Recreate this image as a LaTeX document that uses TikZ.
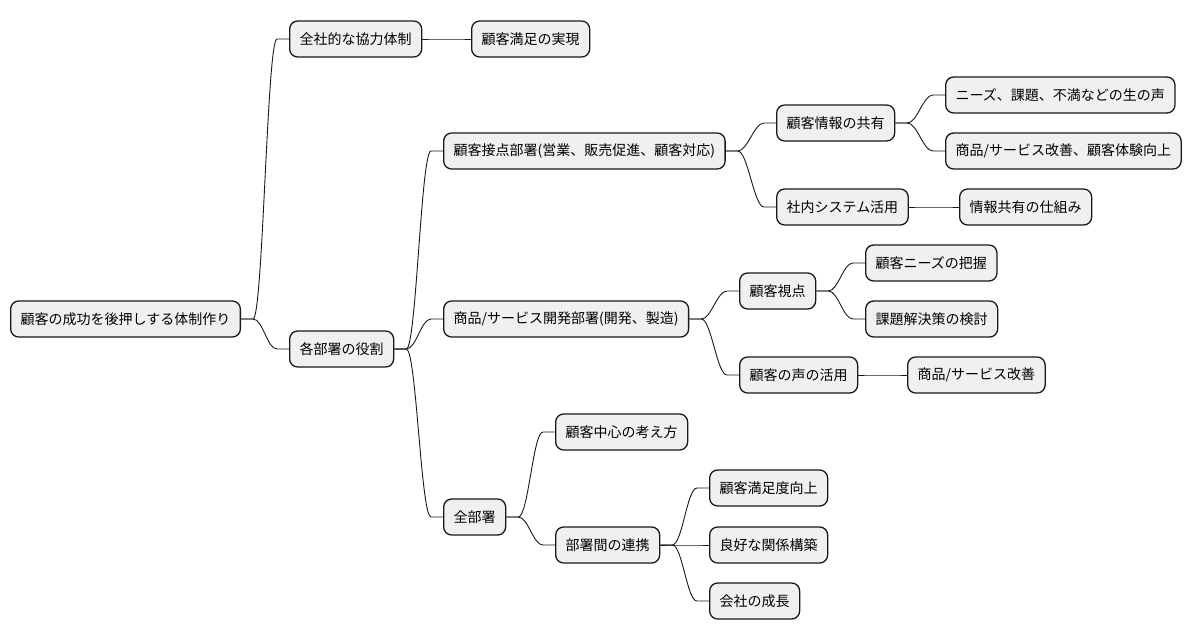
\documentclass[tikz,border=0pt]{standalone}
\usepackage{fontspec}
\setmainfont{Noto Sans CJK JP}
\tikzset{
  box/.style={draw=black!90, line width=1.3pt, fill=black!6, rounded corners=8pt,
    anchor=west, minimum height=36pt, inner xsep=10pt,
    font=\fontsize{14}{16}\selectfont},
  edge/.style={line width=0.9pt, black!90}
}
\begin{document}
\begin{tikzpicture}[x=1pt,y=-1pt]
\useasboundingbox (0,0) rectangle (1190,640);
\node[box] (root) at (10,319) {顧客の成功を後押しする体制作り};
\node[box] (zensha) at (289,39) {全社的な協力体制};
\node[box] (manzoku) at (471,39) {顧客満足の実現};
\node[box] (yakuwari) at (289,349) {各部署の役割};
\node[box] (setten) at (443,151) {顧客接点部署(営業、販売促進、顧客対応)};
\node[box] (joho) at (776,123) {顧客情報の共有};
\node[box] (koe) at (945,95) {ニーズ、課題、不満などの生の声};
\node[box] (taiken) at (945,151) {商品/サービス改善、顧客体験向上};
\node[box] (system) at (776,207) {社内システム活用};
\node[box] (shikumi) at (959,207) {情報共有の仕組み};
\node[box] (kaihatsu) at (443,319) {商品/サービス開発部署(開発、製造)};
\node[box] (shiten) at (739,291) {顧客視点};
\node[box] (needs) at (865,263) {顧客ニーズの把握};
\node[box] (kadai) at (865,319) {課題解決策の検討};
\node[box] (katsuyo) at (739,375) {顧客の声の活用};
\node[box] (kaizen) at (907,375) {商品/サービス改善};
\node[box] (zenbu) at (443,517) {全部署};
\node[box] (chushin) at (555,432) {顧客中心の考え方};
\node[box] (renkei) at (555,545) {部署間の連携};
\node[box] (manzokudo) at (709,488) {顧客満足度向上};
\node[box] (kankei) at (709,545) {良好な関係構築};
\node[box] (seicho) at (709,601) {会社の成長};
\foreach \a/\b in {root/zensha, zensha/manzoku, root/yakuwari,
  yakuwari/setten, setten/joho, joho/koe, joho/taiken, setten/system, system/shikumi,
  yakuwari/kaihatsu, kaihatsu/shiten, shiten/needs, shiten/kadai, kaihatsu/katsuyo, katsuyo/kaizen,
  yakuwari/zenbu, zenbu/chushin, zenbu/renkei, renkei/manzokudo, renkei/kankei, renkei/seicho}
{
  \draw[edge] (\a.east) -- ++(12,0) .. controls +(10,0) and +(-10,0) .. ([xshift=-12pt]\b.west) -- (\b.west);
}
\end{tikzpicture}
\end{document}
